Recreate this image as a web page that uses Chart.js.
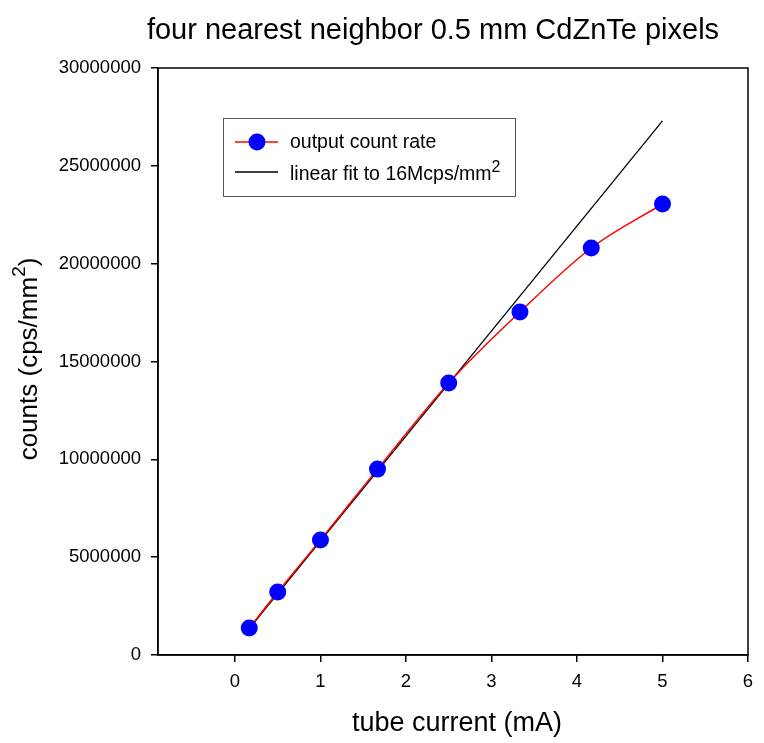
<!DOCTYPE html>
<html>
<head>
<meta charset="utf-8">
<script src="https://cdn.jsdelivr.net/npm/chart.js@4"></script>
<style>
  body { margin: 0; background: #fff; }
  #wrap { width: 764px; height: 743px; }
</style>
</head>
<body>
<div id="wrap"><canvas id="chart" width="764" height="743"></canvas></div>
<script>
// data
const tubeCurrent = [0.167, 0.5, 1.0, 1.667, 2.5, 3.333, 4.167, 5.0];
const countRate = [1380000, 3220000, 5880000, 9500000, 13900000, 17530000, 20800000, 23050000];
const fitX = [0.167, 5.0];
const fitY = [1350000, 27300000];
const xTicks = [0, 1, 2, 3, 4, 5, 6];
const yTicks = [0, 5000000, 10000000, 15000000, 20000000, 25000000, 30000000];

const FONT = "Arial, 'Liberation Sans', sans-serif";

// titles, frame and legend
const decorPlugin = {
  id: 'decor',
  afterDraw(chart) {
    const ctx = chart.ctx;
    const a = chart.chartArea;
    ctx.save();

    // box round the plot
    ctx.strokeStyle = '#000';
    ctx.lineWidth = 1.5;
    ctx.strokeRect(a.left, a.top, a.right - a.left, a.bottom - a.top);

    ctx.fillStyle = '#000';
    ctx.textBaseline = 'alphabetic';

    // chart title
    ctx.font = '29px ' + FONT;
    ctx.textAlign = 'center';
    ctx.fillText('four nearest neighbor 0.5 mm CdZnTe pixels', 433, 39);

    // x title
    ctx.font = '27px ' + FONT;
    ctx.fillText('tube current (mA)', 457, 731);

    // y title with superscript
    ctx.save();
    ctx.translate(37, 359);
    ctx.rotate(-Math.PI / 2);
    const base = 'counts (cps/mm';
    ctx.font = '26px ' + FONT;
    const wBase = ctx.measureText(base).width;
    ctx.font = '19px ' + FONT;
    const wSup = ctx.measureText('2').width;
    ctx.font = '26px ' + FONT;
    const wEnd = ctx.measureText(')').width;
    let x0 = -(wBase + wSup + wEnd) / 2;
    ctx.textAlign = 'left';
    ctx.fillText(base, x0, 0);
    ctx.font = '19px ' + FONT;
    ctx.fillText('2', x0 + wBase, -12);
    ctx.font = '26px ' + FONT;
    ctx.fillText(')', x0 + wBase + wSup, 0);
    ctx.restore();

    // legend
    ctx.strokeStyle = '#555';
    ctx.lineWidth = 1;
    ctx.strokeRect(223.5, 118.5, 292, 78);

    ctx.lineWidth = 1.5;
    ctx.strokeStyle = '#ff0000';
    ctx.beginPath(); ctx.moveTo(235, 142); ctx.lineTo(278, 142); ctx.stroke();
    ctx.fillStyle = '#0000ff';
    ctx.beginPath(); ctx.arc(257, 142, 8.5, 0, Math.PI * 2); ctx.fill();

    ctx.strokeStyle = '#000';
    ctx.beginPath(); ctx.moveTo(235, 172); ctx.lineTo(278, 172); ctx.stroke();

    ctx.fillStyle = '#000';
    ctx.textAlign = 'left';
    ctx.font = '19.5px ' + FONT;
    ctx.fillText('output count rate', 290, 148);
    const lbl = 'linear fit to 16Mcps/mm';
    ctx.fillText(lbl, 290, 180);
    const wl = ctx.measureText(lbl).width;
    ctx.font = '16px ' + FONT;
    ctx.fillText('2', 290 + wl, 172);

    ctx.restore();
  }
};

new Chart(document.getElementById('chart'), {
  type: 'scatter',
  data: {
    datasets: [
      {
        label: 'output count rate',
        data: tubeCurrent.map((x, i) => ({ x: x, y: countRate[i] })),
        showLine: true,
        borderColor: '#ff0000',
        borderWidth: 1.5,
        backgroundColor: '#0000ff',
        pointBackgroundColor: '#0000ff',
        pointBorderWidth: 0,
        pointRadius: 8.5,
        cubicInterpolationMode: 'monotone'
      },
      {
        label: 'linear fit to 16Mcps/mm2',
        data: fitX.map((x, i) => ({ x: x, y: fitY[i] })),
        showLine: true,
        borderColor: '#000',
        borderWidth: 1.3,
        pointRadius: 0
      }
    ]
  },
  options: {
    responsive: false,
    animation: false,
    layout: { padding: { top: 68, right: 16, left: 0, bottom: 0 } },
    plugins: {
      legend: { display: false },
      tooltip: { enabled: false },
      title: { display: false }
    },
    scales: {
      x: {
        type: 'linear',
        min: -0.9,
        max: 6,
        afterBuildTicks: s => { s.ticks = xTicks.map(v => ({ value: v })); },
        afterFit: s => { s.height = 743 - 655; },
        grid: { drawOnChartArea: false, drawTicks: true, tickLength: 7, color: '#000', lineWidth: 1.5 },
        border: { display: true, color: '#000', width: 1.5 },
        ticks: { color: '#000', font: { family: FONT, size: 18.5 }, padding: 9, maxRotation: 0 }
      },
      y: {
        type: 'linear',
        min: 0,
        max: 30000000,
        afterBuildTicks: s => { s.ticks = yTicks.map(v => ({ value: v })); },
        afterFit: s => { s.width = 158; },
        grid: { drawOnChartArea: false, drawTicks: true, tickLength: 7, color: '#000', lineWidth: 1.5 },
        border: { display: true, color: '#000', width: 1.5 },
        ticks: { color: '#000', font: { family: FONT, size: 18.5 }, padding: 10, callback: v => String(v) }
      }
    }
  },
  plugins: [decorPlugin]
});
</script>
</body>
</html>
